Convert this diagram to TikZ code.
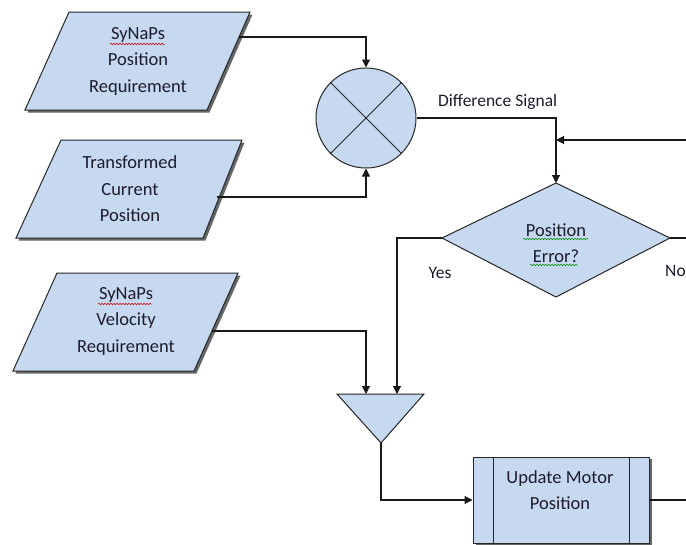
\documentclass[tikz,border=0pt]{standalone}
\usepackage{fontspec}
\setmainfont{Carlito}
\usetikzlibrary{arrows.meta,decorations.pathmorphing}
\definecolor{boxfill}{HTML}{C6D9F1}
\definecolor{inktext}{HTML}{1C1C2C}
\tikzset{
  blockshape/.style={draw=black!85, line width=1pt, fill=boxfill},
  dropshadow/.style={fill=black!60, draw=none},
  link/.style={draw=black!90, line width=1.1pt},
  arrowlink/.style={link, -{Triangle[length=8pt,width=8pt]}},
  txt/.style={font=\fontsize{18.5}{26.5}\selectfont, align=center, text=inktext, inner sep=0pt},
  smalltxt/.style={font=\fontsize{17.5}{20}\selectfont, text=inktext, inner sep=0pt},
  spellred/.style={draw=red!85!black, line width=0.5pt, decorate,
    decoration={snake, amplitude=0.8pt, segment length=3pt}},
  spellgreen/.style={draw=green!55!black, line width=0.5pt, decorate,
    decoration={snake, amplitude=0.8pt, segment length=3pt}},
}
\begin{document}
\begin{tikzpicture}[x=1pt,y=-1pt]
\useasboundingbox (0,0) rectangle (686,544);

% ---- input parallelograms (with drop shadows) ----
\fill[dropshadow] (71.5,14.5) -- (252.5,14.5) -- (209.5,112.5) -- (27.5,112.5) -- cycle;
\path[blockshape] (69,12) -- (250,12) -- (207,110) -- (25,110) -- cycle;
\node[txt] (posreq) at (138,61) {SyNaPs\\Position\\Requirement};
\coordinate (posreqout) at (239,37);

\fill[dropshadow] (63.5,142.5) -- (244.5,142.5) -- (205.5,240.5) -- (18.5,240.5) -- cycle;
\path[blockshape] (61,140) -- (242,140) -- (203,238) -- (16,238) -- cycle;
\node[txt] (curpos) at (130,189) {Transformed\\Current\\Position};
\coordinate (curposout) at (217,197);

\fill[dropshadow] (59.5,275.5) -- (240.5,275.5) -- (196.5,373.5) -- (15.5,373.5) -- cycle;
\path[blockshape] (57,273) -- (238,273) -- (194,371) -- (13,371) -- cycle;
\node[txt] (velreq) at (126,321) {SyNaPs\\Velocity\\Requirement};
\coordinate (velreqout) at (212,331);

% spell-check underlines
\draw[spellred] (110,44) -- (165,44);
\draw[spellred] (98,304) -- (152,304);

% ---- summing junction ----
\node[blockshape, circle, minimum size=100pt, inner sep=0pt] (sum) at (366,118) {};
\draw[black!85, line width=1pt] (sum.north west) -- (sum.south east)
                                (sum.north east) -- (sum.south west);

% ---- decision ----
\coordinate (dtop) at (556,183);
\coordinate (dleft) at (442,238);
\coordinate (dright) at (670,238);
\coordinate (dbot) at (556,297);
\path[blockshape] (dtop) -- (dright) -- (dbot) -- (dleft) -- cycle;
\node[txt] (decision) at (556,243) {Position\\Error?};
\draw[spellgreen] (523,239) -- (588,239);
\draw[spellgreen] (530,265) -- (578,265);

% ---- merge triangle ----
\coordinate (mleft) at (337,394);
\coordinate (mright) at (424,394);
\coordinate (mbot) at (381,443);
\path[blockshape] (mleft) -- (mright) -- (mbot) -- cycle;
\coordinate (min1) at (366,394);
\coordinate (min2) at (397,394);

% ---- predefined process ----
\fill[dropshadow] (475.5,458.5) rectangle (651.5,544.5);
\node[blockshape, minimum width=176pt, minimum height=86pt, inner sep=0pt] (update) at (561,500) {};
\draw[black!85, line width=1pt] (493,457) -- (493,543) (629,457) -- (629,543);
\node[txt] (updatetxt) at (560,490) {Update Motor\\Position};

% ---- off-picture connector ends ----
\coordinate (feedback) at (686,140);
\coordinate (noout) at (686,238);
\coordinate (procout) at (686,500);
\coordinate (dsjoin) at (556,140);

% ---- connectors ----
\draw[arrowlink] (posreqout) -| (sum.north);
\draw[arrowlink] (curposout) -| (sum.south);
\draw[arrowlink] (sum.east) -| (dtop);
\draw[arrowlink] (feedback) -- (dsjoin);
\draw[arrowlink] (dleft) -| (min2);
\draw[link] (dright) -- (noout);
\draw[arrowlink] (velreqout) -| (min1);
\draw[arrowlink] (mbot) |- (update.west);
\draw[link] (update.east) -- (procout);

% ---- labels ----
\node[smalltxt, anchor=west] (dslabel) at (438,102) {Difference Signal};
\node[smalltxt] (yeslabel) at (440,273) {Yes};
\node[smalltxt, anchor=west] (nolabel) at (665,271) {No};
\end{tikzpicture}
\end{document}
